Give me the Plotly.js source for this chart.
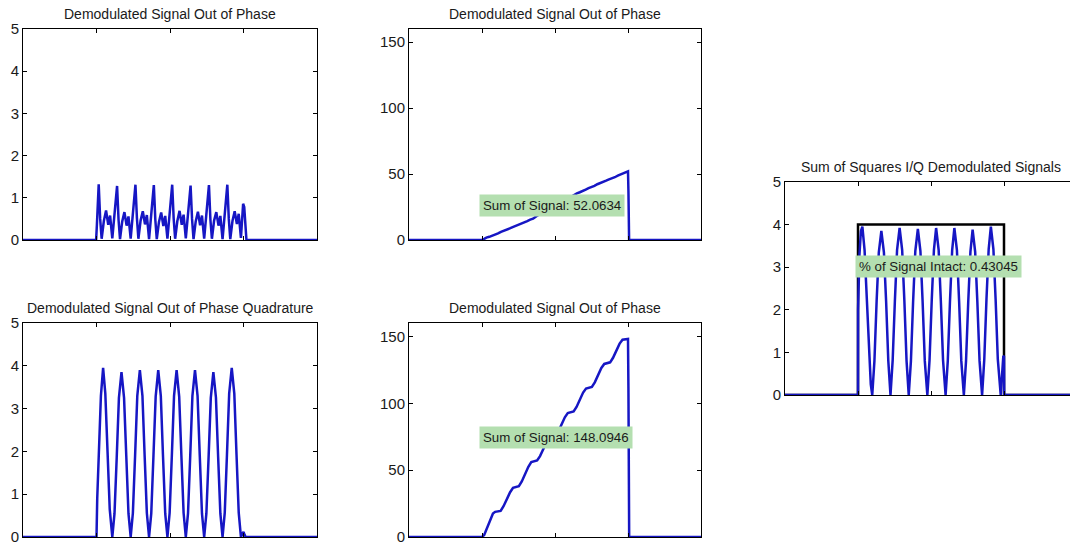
<!DOCTYPE html>
<html>
<head>
<meta charset="utf-8">
<script src="https://cdn.plot.ly/plotly-3.0.1.min.js"></script>
<style>
  html, body { margin: 0; padding: 0; overflow: hidden; background: #fff; }
  #chart { width: 1090px; height: 546px; }
</style>
</head>
<body>
<div id="chart"></div>
<script>
// ---- sample axis (no labels, ticks at quarter points) ----
const sampleTicks = [100, 200, 300];
const unitTicks = [0, 1, 2, 3, 4, 5];
const sumTicks = [0, 50, 100, 150];

// ---- in-phase demodulated signal ----
const inPhaseX = [0, 99.5, 100.5, 101.8,
  103, 105, 107, 110, 113, 116, 118.5, 121.5, 124.5,
  128, 130, 132, 135, 138, 141, 143.5, 146.5, 149.5,
  153, 155, 157, 160, 163, 166, 168.5, 171.5, 174.5,
  178, 180, 182, 185, 188, 191, 193.5, 196.5, 199.5,
  203, 205, 207, 210, 213, 216, 218.5, 221.5, 224.5,
  228, 230, 232, 235, 238, 241, 243.5, 246.5, 249.5,
  253, 255, 257, 260, 263, 266, 268.5, 271.5, 274.5,
  278, 280, 282, 285, 288, 291, 293.5, 296.5,
  299.5, 301, 302.5, 304, 400];
const inPhaseY = [0, 0, 0.35, 0.95,
  1.32, 0.50, 0.03, 0.45, 0.70, 0.36, 0.58, 0.04, 0.62,
  1.28, 0.48, 0.02, 0.44, 0.66, 0.34, 0.56, 0.03, 0.60,
  1.31, 0.52, 0.03, 0.46, 0.68, 0.37, 0.59, 0.02, 0.61,
  1.30, 0.49, 0.02, 0.43, 0.65, 0.33, 0.57, 0.03, 0.59,
  1.31, 0.51, 0.03, 0.45, 0.69, 0.36, 0.60, 0.04, 0.62,
  1.29, 0.50, 0.02, 0.44, 0.67, 0.35, 0.58, 0.03, 0.60,
  1.30, 0.48, 0.03, 0.46, 0.66, 0.34, 0.57, 0.02, 0.61,
  1.31, 0.50, 0.02, 0.45, 0.68, 0.38, 0.62, 0.05,
  0.86, 0.78, 0.22, 0, 0];

// ---- quadrature demodulated signal ----
const quadX = [0, 100, 101, 103, 106, 109, 112, 115, 118,
  121.5, 124.5, 127.5, 130.5, 134, 137.5, 140.5, 143.5,
  146.5, 149.5, 152.5, 155.5, 159, 162.5, 165.5, 168.5,
  171.5, 174.5, 177.5, 180.5, 184, 187.5, 190.5, 193.5,
  196.5, 199.5, 202.5, 205.5, 209, 212.5, 215.5, 218.5,
  221.5, 224.5, 227.5, 230.5, 234, 237.5, 240.5, 243.5,
  246.5, 249.5, 252.5, 255.5, 259, 262.5, 265.5, 268.5,
  271.5, 274.5, 277.5, 280.5, 284, 287.5, 290.5, 293.5,
  296.5, 298.5, 300, 301.5, 303, 400];
const quadY = [0, 0, 0.9, 2.1, 3.3, 3.95, 3.35, 2.0, 0.65,
  0, 0.55, 1.85, 3.25, 3.85, 3.25, 1.9, 0.55,
  0, 0.56, 1.9, 3.3, 3.9, 3.3, 1.9, 0.56,
  0, 0.55, 1.9, 3.28, 3.9, 3.3, 1.88, 0.55,
  0, 0.56, 1.9, 3.3, 3.9, 3.28, 1.9, 0.56,
  0, 0.55, 1.88, 3.3, 3.9, 3.3, 1.9, 0.55,
  0, 0.55, 1.86, 3.25, 3.85, 3.26, 1.87, 0.55,
  0, 0.57, 1.92, 3.35, 3.95, 3.35, 1.92, 0.57,
  0, 0.08, 0.12, 0.05, 0, 0];

// ---- running sum of the in-phase signal ----
const inPhaseTotal = 52.0634;
const cumInX = [0, 100, 103, 106, 110, 114, 118, 122, 126, 130, 134, 138, 142, 146,
  150, 154, 158, 162, 166, 170, 175, 180, 185, 190, 195, 200, 205, 210, 215,
  220, 225, 230, 234, 238, 242, 246, 250, 254, 258, 262, 266, 270, 274, 278,
  282, 286, 290, 294, 298, 300, 300.6, 301, 301.5, 400];
const cumInY = [0, 0, 0.8, 1.8, 2.4, 3.2, 4.0, 5.0, 6.2, 6.9, 7.8, 8.8, 9.8, 10.6,
  11.5, 12.4, 13.2, 14.3, 15.4, 16.2, 18.2, 19.6, 21.0, 22.5, 24.0, 25.6, 27.2, 28.8, 30.5,
  32.2, 33.8, 35.4, 36.2, 37.0, 38.2, 39.3, 40.0, 41.0, 42.3, 43.0, 43.8, 45.0, 46.0, 46.6,
  47.6, 48.8, 49.8, 50.5, 51.6, inPhaseTotal, 37, 10, 0, 0];

// ---- running sum of the quadrature signal ----
const quadTotal = 148.0946;
const cumQuadX = [0, 100, 103, 106, 109, 112, 115, 118, 121.5,
  125.5, 129.5, 134, 138.5, 142.5, 146.5,
  150.5, 154.5, 159, 163.5, 167.5, 171.5,
  175.5, 179.5, 184, 188.5, 192.5, 196.5,
  200.5, 204.5, 209, 213.5, 217.5, 221.5,
  225.5, 229.5, 234, 238.5, 242.5, 246.5,
  250.5, 254.5, 259, 263.5, 267.5, 271.5,
  275.5, 279.5, 284, 288.5, 292.5, 296.5,
  300, 300.6, 301.2, 301.6, 400];
const cumQuadY = [0, 0, 1.5, 5.5, 10, 14.5, 17.5, 18.8, 19.0,
  19.5, 23.0, 28.2, 33.5, 36.8, 37.4,
  38.0, 41.5, 47.0, 52.5, 56.0, 56.6,
  57.2, 60.5, 65.7, 71.0, 74.2, 74.8,
  75.4, 78.8, 84.0, 89.5, 92.6, 93.2,
  93.8, 97.2, 102.5, 108.0, 111.0, 111.6,
  112.2, 115.6, 121.0, 126.4, 129.4, 130.0,
  130.6, 134.0, 139.3, 144.6, 147.5, 148.0,
  quadTotal, 110, 35, 0, 0];

// ---- sum of squares I/Q and the ideal envelope ----
const intactRatio = 0.43045;
const sumSqX = [0, 100, 100.1, 102, 104, 106, 109, 112, 115, 117.5,
  119.5, 122.5, 125.5, 128.5, 132, 135.5, 138.5, 141.5,
  144.5, 147.5, 150.5, 153.5, 157, 160.5, 163.5, 166.5,
  169.5, 172.5, 175.5, 178.5, 182, 185.5, 188.5, 191.5,
  195, 198, 201, 204, 207, 210.5, 213.5, 216.5,
  220, 223, 226, 229, 232, 235.5, 238.5, 241.5,
  245, 248, 251, 254, 257, 260.5, 263.5, 266.5,
  270, 273, 276, 279, 282, 285.5, 288.5, 291.5,
  295.5, 297.5, 299, 300, 300.3, 400];
const sumSqY = [0, 0, 2.0, 3.3, 3.85, 3.95, 3.4, 2.3, 1.0, 0.25,
  0, 0.8, 2.2, 3.35, 3.85, 3.35, 2.2, 0.8,
  0, 0.82, 2.2, 3.4, 3.92, 3.4, 2.22, 0.8,
  0, 0.8, 2.2, 3.38, 3.9, 3.38, 2.2, 0.8,
  0, 0.82, 2.22, 3.4, 3.92, 3.4, 2.2, 0.82,
  0, 0.8, 2.2, 3.4, 3.92, 3.4, 2.2, 0.8,
  0, 0.8, 2.18, 3.36, 3.88, 3.36, 2.18, 0.8,
  0, 0.84, 2.25, 3.42, 3.95, 3.42, 2.25, 0.84,
  0, 0.55, 0.9, 0.92, 0, 0];
const envelopeX = [0, 100, 100, 300, 300, 400];
const envelopeY = [0, 0, 4, 4, 0, 0];

// ---- titles and label texts ----
const titles = [
  'Demodulated Signal Out of Phase',
  'Demodulated Signal Out of Phase',
  'Demodulated Signal Out of Phase Quadrature',
  'Demodulated Signal Out of Phase',
  'Sum of Squares I/Q Demodulated Signals'
];
const labelIn = 'Sum of Signal: ' + inPhaseTotal.toFixed(4);
const labelQuad = 'Sum of Signal: ' + quadTotal.toFixed(4);
const labelIntact = '% of Signal Intact: ' + intactRatio.toFixed(5);

// ---- drawing ----
const W = 1090, H = 546;
const px = v => v / W;
const py = v => (H - v) / H;

const FONT = 'Liberation Sans, Arial, Helvetica, sans-serif';
const BLUE = '#1616c4';
const TEXT = '#1a1a1a';

function xAxis(left, right, anchor) {
  return {
    domain: [px(left), px(right)], anchor: anchor, range: [0, 400],
    tickvals: sampleTicks, showticklabels: false,
    ticks: 'inside', ticklen: 4, tickcolor: '#000',
    showline: true, linecolor: '#000', linewidth: 1, mirror: 'ticks',
    showgrid: false, zeroline: false, fixedrange: true
  };
}
function yAxis(top, bottom, anchor, range, vals) {
  return {
    domain: [py(bottom), py(top)], anchor: anchor, range: range,
    tickvals: vals, ticktext: vals.map(String),
    ticks: 'inside', ticklen: 4, tickcolor: '#000',
    showline: true, linecolor: '#000', linewidth: 1, mirror: 'ticks',
    showgrid: false, zeroline: false, fixedrange: true,
    tickfont: { family: FONT, size: 15, color: TEXT }
  };
}

const line = (x, y, xa, ya, color) => ({
  x: x, y: y, xaxis: xa, yaxis: ya, type: 'scatter', mode: 'lines',
  line: { color: color, width: 2.5 }, hoverinfo: 'skip', showlegend: false
});

const data = [
  line(inPhaseX, inPhaseY, 'x', 'y', BLUE),
  line(cumInX, cumInY, 'x2', 'y2', BLUE),
  line(quadX, quadY, 'x3', 'y3', BLUE),
  line(cumQuadX, cumQuadY, 'x4', 'y4', BLUE),
  line(envelopeX, envelopeY, 'x5', 'y5', '#000'),
  line(sumSqX, sumSqY, 'x5', 'y5', BLUE)
];

function title(text, cx, cy) {
  return {
    text: text, xref: 'paper', yref: 'paper', x: px(cx), y: py(cy),
    xanchor: 'center', yanchor: 'middle', showarrow: false,
    font: { family: FONT, size: 14, color: TEXT }
  };
}
function label(text, xa, ya, x, y) {
  return {
    text: text, xref: xa, yref: ya, x: x, y: y,
    xanchor: 'left', yanchor: 'middle', showarrow: false,
    bgcolor: '#b4dfb0', borderpad: 3,
    font: { family: FONT, size: 13.3, color: TEXT }
  };
}

const layout = {
  width: W, height: H,
  margin: { l: 0, r: 0, t: 0, b: 0 },
  paper_bgcolor: '#fff', plot_bgcolor: '#fff',
  showlegend: false,
  xaxis: xAxis(23, 317, 'y'),
  yaxis: yAxis(29, 240, 'x', [0, 5], unitTicks),
  xaxis2: xAxis(409, 701, 'y2'),
  yaxis2: yAxis(29, 240, 'x2', [0, 160], sumTicks),
  xaxis3: xAxis(23, 317, 'y3'),
  yaxis3: yAxis(323, 537, 'x3', [0, 5], unitTicks),
  xaxis4: xAxis(409, 701, 'y4'),
  yaxis4: yAxis(323, 537, 'x4', [0, 160], sumTicks),
  xaxis5: xAxis(785, 1077, 'y5'),
  yaxis5: yAxis(182, 395, 'x5', [0, 5], unitTicks),
  annotations: [
    title(titles[0], 170, 14),
    title(titles[1], 555, 14),
    title(titles[2], 170, 308),
    title(titles[3], 555, 308),
    title(titles[4], 931, 167),
    label(labelIn, 'x2', 'y2', 96, 26.5),
    label(labelQuad, 'x4', 'y4', 96, 74.4),
    label(labelIntact, 'x5', 'y5', 96, 3.02)
  ]
};

Plotly.newPlot('chart', data, layout, { staticPlot: true, displayModeBar: false });
</script>
</body>
</html>
